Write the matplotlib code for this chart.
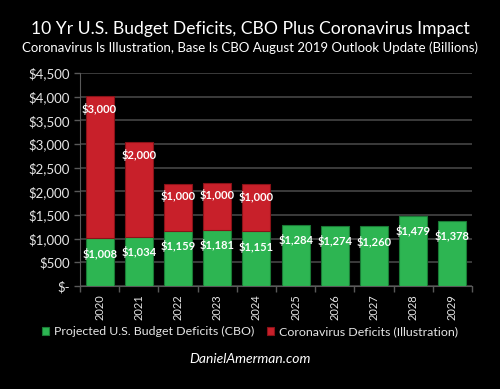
import matplotlib
matplotlib.use("Agg")
import matplotlib.pyplot as plt
import numpy as np

years = ["2020", "2021", "2022", "2023", "2024", "2025", "2026", "2027", "2028", "2029"]
cbo = [1008, 1034, 1159, 1181, 1151, 1284, 1274, 1260, 1479, 1378]
corona = [3000, 2000, 1000, 1000, 1000, 0, 0, 0, 0, 0]
yticks = [0, 500, 1000, 1500, 2000, 2500, 3000, 3500, 4000, 4500]
ylabels = ["$-", "$500", "$1,000", "$1,500", "$2,000", "$2,500", "$3,000", "$3,500", "$4,000", "$4,500"]

plt.rcParams['font.family'] = ['Lato', 'DejaVu Sans']
fig = plt.figure(figsize=(5, 3.89), dpi=100, facecolor='black')
ax = fig.add_axes([0.16, 0.265, 0.784, 0.547], facecolor='black')

x = np.arange(len(years))
green = '#2db552'
red = '#c8202a'
ax.bar(x, cbo, width=0.71, color=green, edgecolor='#1a7a35', linewidth=0.8, zorder=3,
       label='Projected U.S. Budget Deficits (CBO)')
cx = [i for i in x if corona[i] > 0]
ax.bar(cx, [corona[i] for i in cx], bottom=[cbo[i] for i in cx], width=0.71, color=red,
       edgecolor='#8a1218', linewidth=0.8, zorder=3,
       label='Coronavirus Deficits (Illustration)')

for i in x:
    ax.annotate(f"${cbo[i]:,}", (i, cbo[i]), xytext=(0, -11), textcoords='offset points',
                ha='center', va='center', color='white', fontsize=8, fontweight='bold', zorder=5)
    if corona[i] > 0:
        ax.annotate(f"${corona[i]:,}", (i, cbo[i] + corona[i]), xytext=(0, -9), textcoords='offset points',
                    ha='center', va='center', color='white', fontsize=8, fontweight='bold', zorder=5)

ax.set_xlim(-0.5, len(years) - 0.5)
ax.set_ylim(0, 4500)
ax.set_yticks(yticks)
ax.set_yticklabels(ylabels, color='#e6e6e6', fontsize=9.5)
ax.set_xticks(x)
ax.set_xticklabels(years, rotation=90, color='#e6e6e6', fontsize=8)
ax.tick_params(axis='x', length=0, pad=6)
ax.set_xticks(np.arange(-0.5, len(years), 1), minor=True)
ax.tick_params(axis='x', which='minor', length=4, color='#595959', width=1)
ax.tick_params(axis='y', length=4, color='#595959', width=1)
ax.grid(axis='y', color='#404040', linewidth=1.3, zorder=0)
for s in ['top', 'right']:
    ax.spines[s].set_visible(False)
ax.spines['left'].set_color('#595959')
ax.spines['bottom'].set_color('#595959')

fig.text(0.5, 0.925, "10 Yr U.S. Budget Deficits, CBO Plus Coronavirus Impact", ha='center', va='center',
         color='white', fontsize=12.6)
fig.text(0.5, 0.878, "Coronavirus Is Illustration, Base Is CBO August 2019 Outlook Update (Billions)",
         ha='center', va='center', color='white', fontsize=9.5)

leg = fig.legend(loc='center', bbox_to_anchor=(0.5, 0.147), ncol=2, frameon=False,
                 fontsize=8.9, labelcolor='#e6e6e6', handlelength=0.6, handleheight=0.6,
                 handletextpad=0.4, columnspacing=1.0)
fig.text(0.5, 0.077, "DanielAmerman.com", ha='center', va='center', color='white',
         fontsize=10, style='italic')

fig.savefig("out.png", dpi=100, facecolor='black')
